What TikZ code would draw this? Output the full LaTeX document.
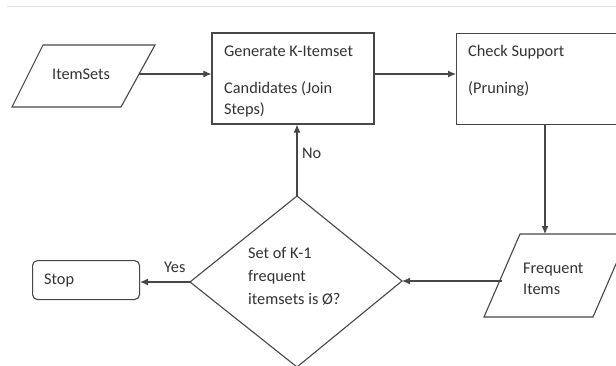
\documentclass[tikz,border=0pt]{standalone}
\usepackage{fontspec}
\setmainfont{Carlito}
\usetikzlibrary{arrows.meta}
\begin{document}
\begin{tikzpicture}[x=1pt,y=-1pt,
  shape line/.style={draw=black!72,line width=1.1pt},
  conn/.style={draw=black!72,line width=1.1pt,-{Latex[length=8pt,width=7pt]}},
  lbl/.style={inner sep=0pt,anchor=base west,font=\fontsize{16.3}{19}\selectfont,text=black!80}]
\useasboundingbox (0,0) rectangle (616,365);
\clip (0,0) rectangle (616,365);
\fill[white] (0,0) rectangle (616,365);
\draw[black!10,line width=0.8pt] (7,6.5) -- (616,6.5);
% ItemSets parallelogram
\draw[shape line] (43,45) -- (155,45) -- (121,107) -- (12,107) -- cycle;
\coordinate (isR) at (139,74);
\node[lbl] (itemsets) at (52,79) {ItemSets};
% Generate box
\node[shape line,rectangle,minimum width=162pt,minimum height=91pt,inner sep=0pt] (gen) at (293,78.5) {};
\node[lbl] (g1) at (224,56) {Generate K-Itemset};
\node[lbl] (g2) at (224,93) {Candidates (Join};
\node[lbl] (g3) at (224,114) {Steps)};
% Check support box
\node[shape line,rectangle,minimum width=170pt,minimum height=91pt,inner sep=0pt,anchor=north west] (chk) at (456,33) {};
\node[lbl] (c1) at (468,56) {Check Support};
\node[lbl] (c2) at (468,93) {(Pruning)};
% Frequent Items parallelogram
\draw[shape line] (520,234) -- (629,234) -- (593,317) -- (484,317) -- cycle;
\coordinate (fiT) at (545,234);
\coordinate (fiL) at (502,281);
\node[lbl] (f1) at (523,273) {Frequent};
\node[lbl] (f2) at (523,294) {Items};
% Diamond
\coordinate (dT) at (297,196);
\coordinate (dR) at (402,281);
\coordinate (dB) at (297,367);
\coordinate (dL) at (190,282);
\draw[shape line] (dT) -- (dR) -- (dB) -- (dL) -- cycle;
\node[lbl] (d1) at (248,258) {Set of K-1};
\node[lbl] (d2) at (248,281) {frequent};
\node[lbl] (d3) at (248,304) {itemsets is Ø?};
% Stop
\node[shape line,rectangle,rounded corners=5pt,minimum width=107pt,minimum height=39pt,inner sep=0pt,anchor=north west] (stop) at (32,260) {};
\node[lbl] (stoptxt) at (44,284) {Stop};
% connectors
\draw[conn] (isR) -- (gen.west |- isR);
\draw[conn] (gen.east |- isR) -- (chk.west |- isR);
\draw[conn] (chk.south -| fiT) -- (fiT);
\draw[conn] (fiL) -- (dR);
\draw[conn] (dT) -- (dT |- gen.south);
\draw[conn] (dL) -- (stop.east |- dL);
\node[lbl] (no) at (302,158) {No};
\node[lbl] (yes) at (164,272) {Yes};
\end{tikzpicture}
\end{document}
